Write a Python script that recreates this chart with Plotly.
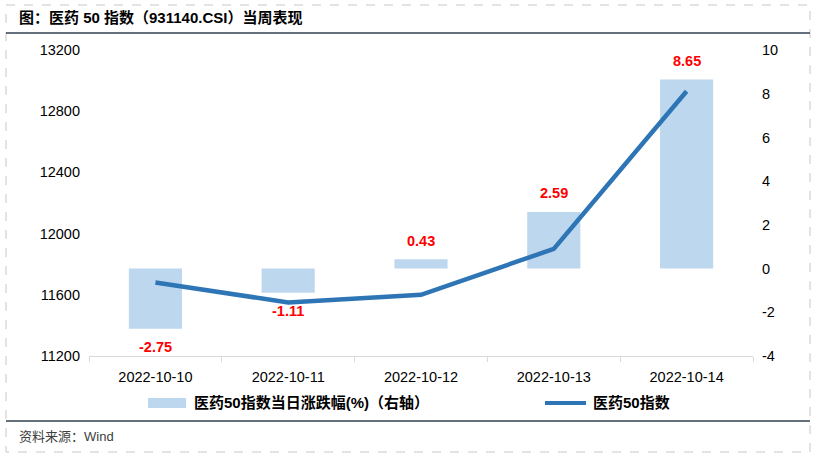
import plotly.graph_objects as go

# ---- data ----
dates = ["2022-10-10", "2022-10-11", "2022-10-12", "2022-10-13", "2022-10-14"]
pct_change = [-2.75, -1.11, 0.43, 2.59, 8.65]
index_close = [11680, 11550, 11600, 11900, 12930]
left_ticks = [11200, 11600, 12000, 12400, 12800, 13200]
right_ticks = [-4, -2, 0, 2, 4, 6, 8, 10]

title_text = "图：医药 50 指数（931140.CSI）当周表现"
bar_name = "医药50指数当日涨跌幅(%)（右轴）"
line_name = "医药50指数"
source_text = "资料来源：Wind"

W, H = 816, 457
L, R, T, B = 89, 63, 50, 101
PW, PH = W - L - R, H - T - B

def px(x):
    return (x - L) / PW

def py(y):
    return (H - B - y) / PH

FONT = "Liberation Sans, Arial, Noto Sans CJK SC"
BAR_COLOR = "#BDD7EE"
LINE_COLOR = "#2E75B6"
DARK = "#333F50"
BORDER = "#C8C8C8"

fig = go.Figure()
fig.add_trace(go.Bar(
    x=dates, y=pct_change, name=bar_name, yaxis="y",
    marker=dict(color=BAR_COLOR, line=dict(width=0)),
    width=0.4, showlegend=False, hoverinfo="skip",
))
fig.add_trace(go.Scatter(
    x=dates, y=index_close, name=line_name, yaxis="y2", mode="lines",
    line=dict(color=LINE_COLOR, width=4.5), showlegend=False, hoverinfo="skip",
))

annotations = []
for d, v in zip(dates, pct_change):
    annotations.append(dict(
        x=d, y=v, xref="x", yref="y", text=f"{v:.2f}", showarrow=False,
        yshift=18.5 if v >= 0 else -18.5, yanchor="middle",
        font=dict(family=FONT, size=14.5, color="#FF0000", weight="bold"),
    ))

# title / source / manual legend text
annotations += [
    dict(x=px(17), y=py(18), xref="paper", yref="paper", text=title_text,
         showarrow=False, xanchor="left", yanchor="middle",
         font=dict(family=FONT, size=15, color="#000000", weight="bold")),
    dict(x=px(17), y=py(436), xref="paper", yref="paper", text=source_text,
         showarrow=False, xanchor="left", yanchor="middle",
         font=dict(family=FONT, size=13, color="#404040")),
    dict(x=px(192), y=py(403), xref="paper", yref="paper", text=bar_name,
         showarrow=False, xanchor="left", yanchor="middle",
         font=dict(family=FONT, size=15, color="#000000", weight="bold")),
    dict(x=px(591), y=py(403), xref="paper", yref="paper", text=line_name,
         showarrow=False, xanchor="left", yanchor="middle",
         font=dict(family=FONT, size=15, color="#000000", weight="bold")),
]

shapes = [
    # dashed outer border
    dict(type="rect", xref="paper", yref="paper", x0=px(6), x1=px(810),
         y0=py(5), y1=py(452), line=dict(color=BORDER, width=1, dash="dash")),
    # dark rule under title
    dict(type="line", xref="paper", yref="paper", x0=px(6), x1=px(810),
         y0=py(33), y1=py(33), line=dict(color=DARK, width=1.5)),
    # dark rule above source
    dict(type="line", xref="paper", yref="paper", x0=px(6), x1=px(810),
         y0=py(421), y1=py(421), line=dict(color=DARK, width=1.5)),
    # legend swatches
    dict(type="rect", xref="paper", yref="paper", x0=px(148), x1=px(186),
         y0=py(408), y1=py(398), fillcolor=BAR_COLOR, line=dict(width=0)),
    dict(type="line", xref="paper", yref="paper", x0=px(545), x1=px(586),
         y0=py(403), y1=py(403), line=dict(color=LINE_COLOR, width=4)),
]

tickfont = dict(family=FONT, size=14.5, color="#000000")

fig.update_layout(
    width=W, height=H,
    margin=dict(l=L, r=R, t=T, b=B, autoexpand=False),
    paper_bgcolor="white", plot_bgcolor="white",
    showlegend=False,
    bargap=0.6,
    xaxis=dict(
        type="category", showgrid=False, zeroline=False,
        showline=True, linecolor="#D9D9D9", linewidth=1,
        ticks="outside", tickson="boundaries", ticklen=5, tickcolor="#D9D9D9",
        tickfont=tickfont, ticklabelstandoff=8,
    ),
    yaxis=dict(
        side="right", range=[-4, 10], tickmode="array", tickvals=right_ticks,
        ticktext=[str(v) for v in right_ticks],
        showgrid=False, zeroline=False, showline=False, ticks="",
        tickfont=tickfont, ticklabelstandoff=8,
    ),
    yaxis2=dict(
        side="left", overlaying="y", range=[11200, 13200], tickmode="array",
        tickvals=left_ticks, ticktext=[str(v) for v in left_ticks],
        showgrid=False, zeroline=False, showline=False, ticks="",
        tickfont=tickfont, ticklabelstandoff=8,
    ),
    annotations=annotations,
    shapes=shapes,
)

fig.write_html(
    "out.html",
    config={"displayModeBar": False},
    post_script="document.body.style.margin='0px';document.body.style.overflow='hidden';",
)
